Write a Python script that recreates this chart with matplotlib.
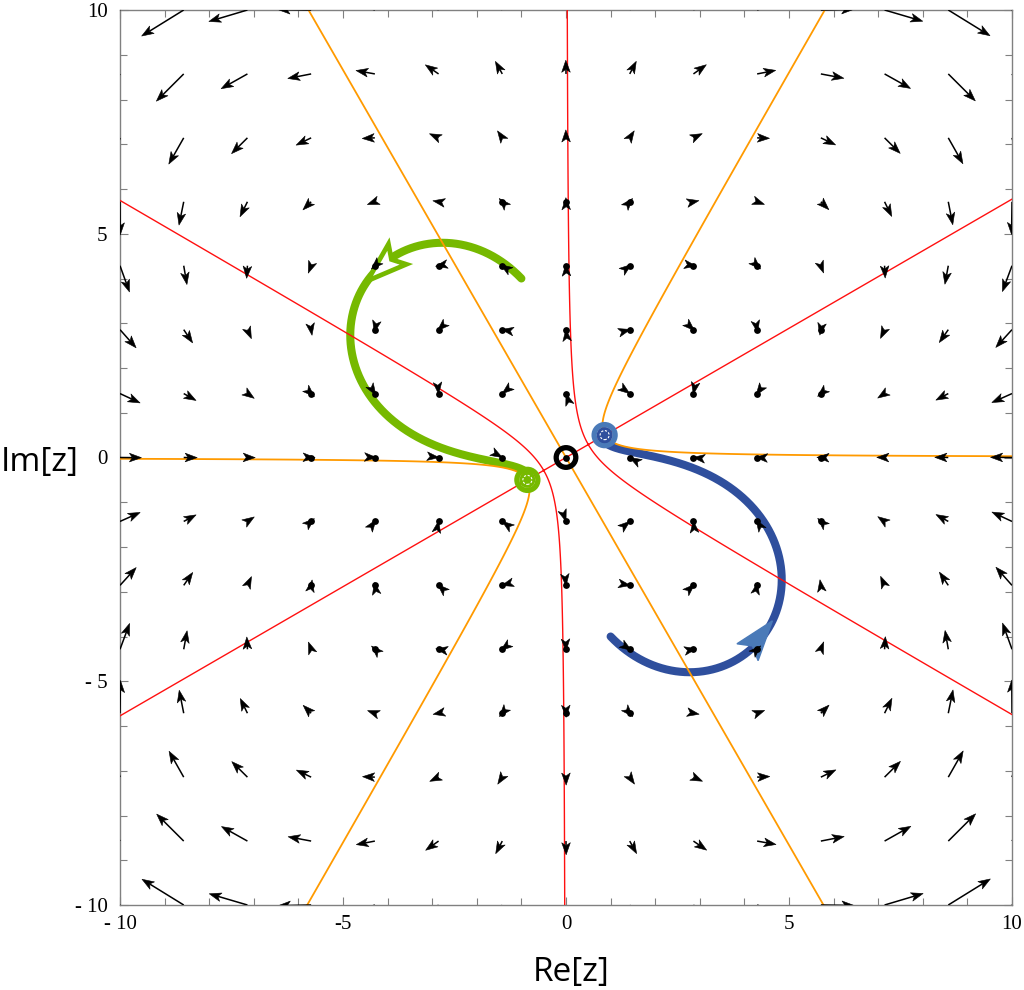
import numpy as np
import matplotlib
matplotlib.use("Agg")
import matplotlib.pyplot as plt
from matplotlib.patches import Polygon, Circle
from matplotlib.collections import PolyCollection, LineCollection

# ---------------- data ----------------
# zeros of the cubic f(z) = z (z - r) (z + r) whose flow dz/dt = -f(z) is shown
roots = [0 + 0j, 0.866 + 0.5j, -0.866 - 0.5j]
root_colors = ["black", "#4a7ab8", "#76b900"]
root_inner = [None, "#2f4f9d", "#76b900"]
# sample points of the vector field (15 x 15)
grid_x = np.linspace(-10, 10, 15)
grid_y = np.linspace(-10, 10, 15)
# starting points of the two drawn trajectories and their colours
traj_starts = [-1 + 4j, 1 - 4j]
traj_colors = ["#76b900", "#2f4f9d"]
traj_head_colors = ["white", "#4a7ab8"]
traj_head_edges = ["#76b900", "#4a7ab8"]
traj_head_arclen = [3.95, 4.3]
# axis ticks
xticks = [-10, -5, 0, 5, 10]
xticklabels = ["- 10", "-5", "0", "5", "10"]
yticks = [-10, -5, 0, 5, 10]
yticklabels = ["- 10", "- 5", "0", "5", "10"]


def f(z):
    out = np.ones_like(z) if isinstance(z, np.ndarray) else 1.0 + 0j
    for r in roots:
        out = out * (z - r)
    return out


def field(z):
    return -f(z)


# ---------------- figure ----------------
W, H = 1024, 990
fig = plt.figure(figsize=(W / 100, H / 100), dpi=100)
L, R, T, B = 120, 1012, 10, 905
ax = fig.add_axes([L / W, 1 - B / H, (R - L) / W, (B - T) / H])
ax.set_xlim(-10, 10)
ax.set_ylim(-10, 10)
pxu = (R - L) / 20.0  # pixels per data unit

# contour lines Re f = 0 (red) and Im f = 0 (orange)
g = np.linspace(-10.5, 10.5, 1201)
GX, GY = np.meshgrid(g, g)
F = f(GX + 1j * GY)
ax.contour(GX, GY, F.real, levels=[0], colors="#ff1010", linewidths=1.0, zorder=3)
ax.contour(GX, GY, F.imag, levels=[0], colors="#ff9a00", linewidths=1.3, zorder=3)


# trajectories
def trajectory(z0, h=0.004, nmax=30000):
    def d(z):
        v = field(z)
        return v / abs(v)
    pts = [z0]
    z = z0
    for _ in range(nmax):
        k1 = d(z)
        k2 = d(z + h / 2 * k1)
        k3 = d(z + h / 2 * k2)
        k4 = d(z + h * k3)
        z = z + h / 6 * (k1 + 2 * k2 + 2 * k3 + k4)
        pts.append(z)
        if min(abs(z - r) for r in roots[1:]) < 0.02:
            break
    return np.array(pts)


def head_poly(p, u, length, half_w, notch=0.78):
    n = 1j * u
    pts = [p, p - u * length + n * half_w, p - u * length * notch, p - u * length - n * half_w]
    return [(q.real, q.imag) for q in pts]


head_len = 40 / pxu
for z0, col, hc, he, sa in zip(traj_starts, traj_colors, traj_head_colors, traj_head_edges, traj_head_arclen):
    P = trajectory(z0)
    ax.plot(P.real, P.imag, color=col, lw=5.8, solid_capstyle="round", zorder=2)
    seg = np.abs(np.diff(P))
    s = np.concatenate([[0], np.cumsum(seg)])
    i = int(np.argmin(np.abs(s - sa)))
    j = int(np.argmin(np.abs(s - (sa - head_len))))
    c = P[i] - P[j]
    u = c / abs(c)
    poly = head_poly(P[i], u, head_len, 13.5 / pxu, notch=0.8)
    if hc == "white":
        ax.add_patch(Polygon(poly, closed=True, fc="white", ec=he, lw=3.4, joinstyle="miter", zorder=2.5))
    else:
        ax.add_patch(Polygon(poly, closed=True, fc=hc, ec=he, lw=1.0, zorder=2.5))

# vector field arrows
scale = 0.74 / abs(field(-10 + 5.714j))  # data units per |f|
hl = 12.0 / pxu
hw = 4.3 / pxu
shafts, heads, dots = [], [], []
for yv in grid_y:
    for xv in grid_x:
        z = xv + 1j * yv
        v = field(z)
        m = abs(v)
        u = v / m
        Ld = m * scale
        tip = z + u * Ld
        heads.append(head_poly(tip, u, hl, hw, notch=0.75))
        if Ld > hl * 0.75:
            e = tip - u * hl * 0.75
            shafts.append([(z.real, z.imag), (e.real, e.imag)])
        if Ld * pxu < 5.5:
            dots.append((xv, yv))
ax.add_collection(LineCollection(shafts, colors="black", linewidths=1.1, zorder=4))
ax.add_collection(PolyCollection(heads, facecolors="black", edgecolors="black", linewidths=0.4, zorder=4))
if dots:
    d = np.array(dots)
    ax.scatter(d[:, 0], d[:, 1], s=24, color="black", zorder=4, linewidths=0)

# root markers
for r, c, ic in zip(roots, root_colors, root_inner):
    if ic is None:
        ax.add_patch(Circle((r.real, r.imag), 9.8 / pxu, fill=False, ec=c, lw=3.8, zorder=5))
    else:
        ax.add_patch(Circle((r.real, r.imag), 10.5 / pxu, fill=False, ec=c, lw=3.8, zorder=5))
        ax.add_patch(Circle((r.real, r.imag), 8.0 / pxu, fc=ic, ec="none", zorder=5.1))
        ax.add_patch(Circle((r.real, r.imag), 4.5 / pxu, fill=False, ec="white", lw=0.8,
                            ls=(0, (2, 1.5)), zorder=5.2))

# axes styling
for sp in ax.spines.values():
    sp.set_color("#808080")
    sp.set_linewidth(1.0)
ax.set_xticks(xticks)
ax.set_xticklabels(xticklabels)
ax.set_yticks(yticks)
ax.set_yticklabels(yticklabels)
ax.set_xticks(np.arange(-10, 11, 1), minor=True)
ax.set_yticks(np.arange(-10, 11, 1), minor=True)
ax.tick_params(which="both", direction="in", top=True, right=True, color="#808080", width=0.8)
ax.tick_params(which="major", length=6)
ax.tick_params(which="minor", length=5)
ax.tick_params(axis="x", pad=7)
ax.tick_params(axis="y", pad=9)
for lab in ax.get_xticklabels() + ax.get_yticklabels():
    lab.set_fontfamily("Liberation Serif")
    lab.set_fontsize(15)

fig.text(571 / W, 1 - 973 / H, "Re[z]", ha="center", va="center", fontsize=24, family="Open Sans")
fig.text(40 / W, 1 - 462 / H, "Im[z]", ha="center", va="center", fontsize=24, family="Open Sans")

fig.savefig("out.png", dpi=100)
